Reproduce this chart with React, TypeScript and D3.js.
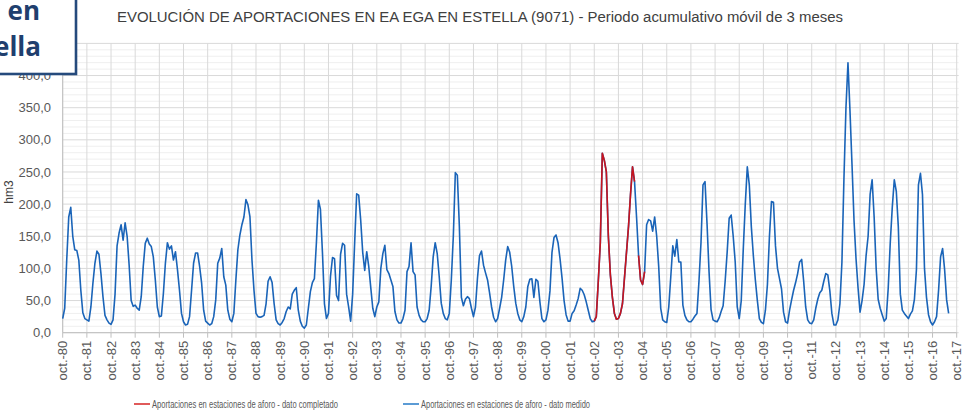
import React from "react";
import * as d3 from "d3";

// aportaciones acumuladas móviles de 3 meses (hm3), mes a mes desde oct-80
const aportaciones = [
  // 80-81
  22, 38, 113, 180, 195, 150, 129, 128, 113, 66, 31, 22,
  // 81-82
  20, 18, 40, 77, 108, 127, 122, 92, 56, 27, 20, 15,
  // 82-83
  13, 20, 60, 135, 155, 168, 144, 171, 150, 105, 50, 41,
  // 83-84
  43, 38, 35, 56, 103, 139, 147, 138, 134, 118, 82, 40,
  // 84-85
  25, 26, 61, 108, 140, 130, 135, 113, 126, 98, 66, 30,
  // 85-86
  17, 12, 13, 25, 66, 108, 124, 124, 103, 77, 35, 18,
  // 86-87
  15, 12, 14, 25, 51, 108, 116, 131, 87, 74, 35, 21,
  // 87-88
  17, 30, 82, 129, 152, 168, 180, 207, 199, 180, 113, 66,
  // 88-89
  30, 25, 24, 25, 27, 45, 80, 87, 78, 45, 20, 14,
  // 89-90
  12, 16, 22, 33, 40, 37, 60, 66, 70, 35, 18, 10,
  // 90-91
  7, 12, 38, 64, 78, 84, 140, 206, 192, 125, 45, 22,
  // 91-92
  30, 88, 117, 115, 58, 50, 122, 139, 136, 60, 40, 18,
  // 92-93
  60, 140, 216, 214, 175, 125, 97, 126, 103, 70, 38, 25,
  // 93-94
  40, 48, 100, 123, 136, 98, 92, 82, 72, 33, 20, 15,
  // 94-95
  15, 22, 35, 95, 103, 140, 95, 90, 40, 27, 20, 17,
  // 95-96
  17, 22, 35, 72, 118, 140, 123, 87, 46, 30, 22, 20,
  // 96-97
  30, 82, 150, 249, 245, 165, 55, 42, 52, 56, 53, 38,
  // 97-98
  25, 40, 85, 120, 127, 105, 93, 82, 62, 40, 24, 17,
  // 98-99
  22, 38, 55, 82, 113, 134, 125, 103, 72, 46, 30, 20,
  // 99-00
  17, 25, 40, 72, 83, 84, 55, 83, 80, 48, 22, 17,
  // 00-01
  20, 35, 65, 125, 148, 152, 140, 115, 85, 50, 28, 18,
  // 01-02
  18, 30, 34, 43, 53, 69, 66, 59, 48, 35, 22, 17,
  // 02-03
  18, 25, 80, 140, 279, 268, 250, 150, 90, 55, 30, 21,
  // 03-04
  22, 30, 45, 85, 125, 165, 215, 258, 235, 180, 120, 82,
  // 04-05
  75, 95, 168, 176, 174, 158, 180, 150, 103, 38, 20, 17,
  // 05-06
  16, 40, 87, 135, 119, 145, 110, 110, 43, 27, 20, 17,
  // 06-07
  17, 21, 26, 30, 80, 140, 230, 235, 170, 95, 36, 20,
  // 07-08
  18, 17, 23, 33, 42, 80, 125, 178, 183, 150, 110, 40,
  // 08-09
  22, 50, 130, 200, 258, 230, 165, 120, 82, 50, 22, 16,
  // 09-10
  14, 35, 75, 150, 204, 203, 135, 100, 84, 68, 32, 17,
  // 10-11
  15, 35, 51, 66, 78, 92, 110, 114, 80, 40, 20, 15,
  // 11-12
  14, 20, 38, 52, 62, 66, 80, 92, 90, 65, 30, 12,
  // 12-13
  12, 20, 45, 110, 240, 350, 420, 345, 262, 175, 115, 70,
  // 13-14
  32, 50, 75, 120, 150, 215, 238, 180, 100, 52, 38, 28,
  // 14-15
  18, 22, 70, 140, 195, 238, 220, 165, 60, 35, 30, 26,
  // 15-16
  22, 29, 34, 52, 98, 230, 248, 215, 100, 55, 28, 17,
  // 16-17
  12, 17, 25, 66, 118, 131, 98, 51, 30,
];

// tramos (índice de mes inicial y final) con dato completado
const tramosCompletados = [
  [264, 284],
  [286, 289],
];

const etiquetasX = [
  "oct.-80", "oct.-81", "oct.-82", "oct.-83", "oct.-84", "oct.-85", "oct.-86", "oct.-87",
  "oct.-88", "oct.-89", "oct.-90", "oct.-91", "oct.-92", "oct.-93", "oct.-94", "oct.-95",
  "oct.-96", "oct.-97", "oct.-98", "oct.-99", "oct.-00", "oct.-01", "oct.-02", "oct.-03",
  "oct.-04", "oct.-05", "oct.-06", "oct.-07", "oct.-08", "oct.-09", "oct.-10", "oct.-11",
  "oct.-12", "oct.-13", "oct.-14", "oct.-15", "oct.-16", "oct.-17",
];

// el 450 queda tapado por el recuadro, solo se pinta su línea
const ticksY = [0, 50, 100, 150, 200, 250, 300, 350, 400];
const maxY = 450;

const titulo =
  "EVOLUCIÓN DE APORTACIONES EN EA EGA EN ESTELLA (9071) - Periodo acumulativo móvil de 3 meses";
const leyenda = [
  "Aportaciones en estaciones de aforo - dato completado",
  "Aportaciones en estaciones de aforo - dato medido",
];

export default function App() {
  const width = 971,
    height = 418;
  const left = 62.7,
    right = 956.7,
    top = 43.4,
    bottom = 332.7;

  const xScale = d3
    .scaleLinear()
    .domain([0, (etiquetasX.length - 1) * 12])
    .range([left, right]);
  const yScale = d3.scaleLinear().domain([0, maxY]).range([bottom, top]);

  const line = d3
    .line<number>()
    .x((d, i) => xScale(i))
    .y((d) => yScale(d));

  const lineaTramo = d3
    .line<[number, number]>()
    .x((d) => xScale(d[0]))
    .y((d) => yScale(d[1]));

  const minorY = d3.range(0, maxY + 1, 10).filter((v) => v % 50 !== 0);
  const majorY = d3.range(0, maxY + 1, 50);
  const gris = "#595959";

  return (
    <svg
      width={width}
      height={height}
      style={{ position: "absolute", left: 0, top: 0, background: "#fff" }}
      fontFamily="'Liberation Sans', Arial, sans-serif"
    >
      {/* titulo */}
      <text
        x={117}
        y={22}
        fontSize={14}
        fill="#404040"
        textLength={726}
        lengthAdjust="spacingAndGlyphs"
      >
        {titulo}
      </text>

      {/* rejilla */}
      <g>
        {minorY.map((v) => (
          <line
            key={"m" + v}
            x1={left}
            x2={right + 2}
            y1={yScale(v)}
            y2={yScale(v)}
            stroke="#efefef"
          />
        ))}
        {majorY.map((v) => (
          <line
            key={"g" + v}
            x1={left}
            x2={right + 2}
            y1={yScale(v)}
            y2={yScale(v)}
            stroke="#d9d9d9"
          />
        ))}
        {etiquetasX.map((t, i) => (
          <line
            key={"v" + t}
            x1={xScale(i * 12)}
            x2={xScale(i * 12)}
            y1={top}
            y2={bottom}
            stroke="#d9d9d9"
          />
        ))}
      </g>

      {/* eje y */}
      <line x1={left} x2={left} y1={top} y2={bottom} stroke="#bfbfbf" />
      {ticksY.map((v) => (
        <text
          key={"ty" + v}
          x={51}
          y={yScale(v)}
          dy="0.35em"
          textAnchor="end"
          fontSize={13}
          fill={gris}
        >
          {v.toFixed(1).replace(".", ",")}
        </text>
      ))}
      <text
        transform={`translate(13,${(top + bottom) / 2 + 4}) rotate(-90)`}
        textAnchor="middle"
        fontSize={12}
        fill="#404040"
      >
        hm3
      </text>

      {/* eje x */}
      <line x1={left} x2={right} y1={bottom} y2={bottom} stroke="#bfbfbf" />
      {etiquetasX.map((t, i) => (
        <g key={"tx" + t} transform={`translate(${xScale(i * 12)},${bottom})`}>
          <line y1={0} y2={5} stroke="#bfbfbf" />
          <text
            transform="translate(4.5,8) rotate(-90)"
            textAnchor="end"
            fontSize={13}
            fill={gris}
          >
            {t}
          </text>
        </g>
      ))}

      {/* series */}
      <path
        d={line(aportaciones) || ""}
        fill="none"
        stroke="#1a64b8"
        strokeWidth={1.6}
        strokeLinejoin="round"
      />
      {tramosCompletados.map(([a, b]) => (
        <path
          key={"r" + a}
          d={
            lineaTramo(
              d3.range(a, b + 1).map((i) => [i, aportaciones[i]] as [number, number])
            ) || ""
          }
          fill="none"
          stroke="#c8141e"
          strokeWidth={1.6}
          strokeLinejoin="round"
        />
      ))}

      {/* leyenda */}
      <g fontFamily="'Liberation Sans Narrow', 'Liberation Sans', Arial, sans-serif">
        <line x1={134} x2={150} y1={404} y2={404} stroke="#e05a5a" strokeWidth={2} />
        <text
          x={152}
          y={404}
          dy="0.35em"
          fontSize={11}
          fill={gris}
          textLength={186}
          lengthAdjust="spacingAndGlyphs"
        >
          {leyenda[0]}
        </text>
        <line x1={403} x2={419} y1={404} y2={404} stroke="#5b9bd5" strokeWidth={2} />
        <text
          x={421}
          y={404}
          dy="0.35em"
          fontSize={11}
          fill={gris}
          textLength={169}
          lengthAdjust="spacingAndGlyphs"
        >
          {leyenda[1]}
        </text>
      </g>

      {/* recuadro superpuesto */}
      <rect
        x={-10}
        y={-10}
        width={86}
        height={84}
        fill="#fff"
        stroke="#254a7c"
        strokeWidth={2.6}
      />
      <g
        fontFamily="'Open Sans', Lato, 'Liberation Sans', sans-serif"
        fontWeight="bold"
        fontSize={26}
        fill="#1f3f6e"
        textAnchor="end"
      >
        <text x={40} y={20}>
          en
        </text>
        <text x={41} y={56}>
          ella
        </text>
      </g>
    </svg>
  );
}
